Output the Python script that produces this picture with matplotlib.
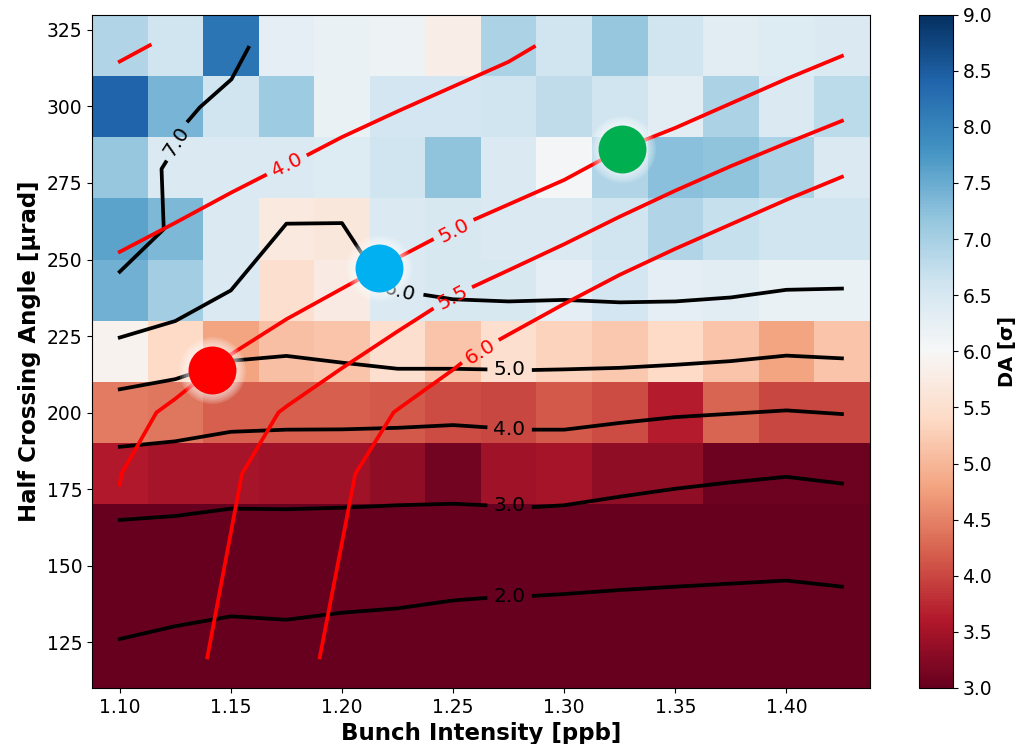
import numpy as np
import matplotlib
matplotlib.use('Agg')
import matplotlib.pyplot as plt

nan = np.nan

# grid of the heatmap (cell centres)
intensity = [1.100, 1.125, 1.150, 1.175, 1.200, 1.225, 1.250,
             1.275, 1.300, 1.325, 1.350, 1.375, 1.400, 1.425]
angle = [120, 140, 160, 180, 200, 220, 240, 260, 280, 300, 320]

# DA values, one row per angle (bottom -> top)
da = [
    [1.7, 1.7, 1.7, 1.7, 1.7, 1.7, 1.7, 1.7, 1.7, 1.7, 1.7, 1.7, 1.7, 1.7],
    [2.3, 2.3, 2.3, 2.3, 2.3, 2.3, 2.3, 2.3, 2.3, 2.3, 2.3, 2.3, 2.3, 2.3],
    [2.7, 2.7, 2.7, 2.7, 2.7, 2.7, 2.7, 2.7, 2.7, 2.7, 2.7, 2.7, 2.7, 2.7],
    [3.6, 3.5, 3.5, 3.45, 3.45, 3.35, 3.1, 3.45, 3.5, 3.35, 3.35, 3.05, 3.05, 3.05],
    [4.45, 4.4, 4.2, 4.2, 4.2, 4.15, 4.05, 4.0, 4.15, 4.05, 3.65, 4.25, 4.0, 4.0],
    [5.9, 5.4, 4.8, 5.1, 5.15, 5.5, 5.15, 5.5, 5.3, 5.2, 5.4, 5.15, 4.8, 5.15],
    [7.45, 7.05, 6.45, 5.5, 5.75, 6.45, 6.5, 6.5, 6.3, 6.55, 6.3, 6.35, 6.2, 6.2],
    [7.6, 7.35, 6.45, 5.7, 5.65, 6.45, 6.5, 6.45, 6.45, 6.6, 6.9, 6.7, 6.6, 6.6],
    [7.15, 6.45, 6.45, 6.45, 6.4, 6.6, 7.2, 6.45, 6.05, 6.9, 7.25, 7.2, 6.95, 6.45],
    [8.4, 7.4, 6.6, 7.1, 6.2, 6.55, 6.55, 6.6, 6.75, 6.6, 6.35, 6.95, 6.45, 6.8],
    [6.9, 6.6, 8.2, 6.3, 6.2, 6.15, 5.8, 6.95, 6.6, 7.15, 6.6, 6.35, 6.4, 6.45],
]

# DA iso-lines (black), gaps (nan) where the label sits
da2_x = [1.10, 1.125, 1.15, 1.175, 1.20, 1.225, 1.25, 1.2646, nan, 1.2863, 1.30, 1.325, 1.35, 1.375, 1.40, 1.425]
da2_y = [126.0, 130.2, 133.4, 132.3, 134.6, 136.0, 138.6, 139.4, nan, 140.1, 140.7, 142.0, 143.1, 144.1, 145.1, 143.1]
da3_x = [1.10, 1.125, 1.15, 1.175, 1.20, 1.225, 1.25, 1.2646, nan, 1.2863, 1.30, 1.325, 1.35, 1.375, 1.40, 1.425]
da3_y = [164.9, 166.2, 168.6, 168.4, 168.9, 169.7, 170.2, 169.7, nan, 169.1, 169.7, 172.5, 175.1, 177.2, 179.0, 176.8]
da4_x = [1.10, 1.125, 1.15, 1.175, 1.20, 1.225, 1.25, 1.2646, nan, 1.2863, 1.30, 1.325, 1.35, 1.375, 1.40, 1.425]
da4_y = [188.8, 190.6, 193.7, 194.4, 194.5, 195.0, 195.9, 195.2, nan, 194.4, 194.4, 196.6, 198.5, 199.6, 200.7, 199.5]
da5_x = [1.10, 1.125, 1.15, 1.175, 1.20, 1.225, 1.25, 1.2646, nan, 1.2863, 1.30, 1.325, 1.35, 1.375, 1.40, 1.425]
da5_y = [207.6, 210.9, 216.9, 218.5, 216.3, 214.3, 214.3, 214.1, nan, 213.9, 214.1, 214.6, 215.6, 216.8, 218.6, 217.7]
da6_x = [1.10, 1.125, 1.15, 1.175, 1.20, 1.2125, nan, 1.2375, 1.25, 1.275, 1.30, 1.325, 1.35, 1.375, 1.40, 1.425]
da6_y = [224.5, 229.9, 239.9, 261.7, 261.9, 248.0, nan, 238.4, 237.0, 236.3, 236.8, 236.0, 236.3, 237.6, 240.1, 240.5]
da7_x = [1.10, 1.1198, 1.1188, 1.1207, nan, 1.1308, 1.136, 1.1503, 1.1579]
da7_y = [246.0, 259.9, 279.6, 281.8, nan, 295.3, 299.7, 308.9, 319.2]

# second quantity (red iso-lines)
r3_x = [1.10, 1.1135]
r3_y = [314.7, 320.0]
r4_x = [1.10, 1.125, 1.15, 1.1654, nan, 1.1849, 1.20, 1.225, 1.25, 1.275, 1.2864]
r4_y = [252.5, 262.0, 271.8, 277.5, nan, 284.3, 290.0, 298.4, 306.5, 314.6, 319.5]
r5_x = [1.10, 1.1008, 1.1165, 1.125, 1.15, 1.175, 1.20, 1.225, 1.2405, nan, 1.26, 1.275, 1.30, 1.325, 1.35, 1.375, 1.40, 1.425]
r5_y = [176.5, 180.0, 200.0, 204.5, 219.0, 230.5, 240.5, 250.5, 256.4, nan, 263.2, 268.0, 276.0, 285.8, 293.0, 301.0, 309.0, 316.5]
r55_x = [1.1394, 1.155, 1.1714, 1.175, 1.20, 1.225, 1.2405, nan, 1.2593, 1.275, 1.30, 1.325, 1.35, 1.375, 1.40, 1.425]
r55_y = [120.0, 180.0, 200.0, 202.0, 214.5, 226.5, 233.7, nan, 241.2, 246.5, 255.0, 264.0, 272.5, 280.5, 288.0, 295.3]
r6_x = [1.19, 1.206, 1.2232, 1.225, 1.25, 1.2533, nan, 1.2713, 1.275, 1.30, 1.325, 1.35, 1.375, 1.40, 1.425]
r6_y = [120.0, 180.0, 200.0, 201.0, 214.0, 215.9, nan, 224.0, 225.5, 235.5, 245.0, 253.5, 261.5, 269.5, 277.0]

# inline labels: text, x, y, rotation
black_labels = [('2.0', 1.2754, 140.0, 0), ('3.0', 1.2754, 169.5, 0),
                ('4.0', 1.2754, 194.6, 0), ('5.0', 1.2754, 214.0, 0),
                ('6.0', 1.2258, 239.4, -15), ('7.0', 1.1257, 288.5, 57)]
red_labels = [('4.0', 1.1752, 280.9, 26), ('5.0', 1.2503, 259.4, 27.5),
              ('5.5', 1.2500, 237.6, 28.5), ('6.0', 1.2623, 219.9, 31.5)]

# working points
pt_x = [1.1415, 1.2168, 1.3259]
pt_y = [214.0, 247.2, 286.2]
pt_c = ['#ff0000', '#00b0f0', '#00b050']

fig = plt.figure(figsize=(10.22, 7.44), dpi=100)
ax = fig.add_axes([0.090, 0.0753, 0.761, 0.905])
cax = fig.add_axes([0.899, 0.0753, 0.0333, 0.905])

mesh = ax.pcolormesh(intensity, angle, da, cmap='RdBu', vmin=3, vmax=9, shading='nearest')

for lx, ly in [(da2_x, da2_y), (da3_x, da3_y), (da4_x, da4_y),
               (da5_x, da5_y), (da6_x, da6_y), (da7_x, da7_y)]:
    ax.plot(lx, ly, color='black', lw=2.7, zorder=2)
for lx, ly in [(r3_x, r3_y), (r4_x, r4_y), (r5_x, r5_y), (r55_x, r55_y), (r6_x, r6_y)]:
    ax.plot(lx, ly, color='red', lw=2.7, zorder=2)

for t, x, y, r in black_labels:
    ax.text(x, y, t, color='black', fontsize=14.5, rotation=r, ha='center', va='center',
            rotation_mode='anchor', zorder=3)
for t, x, y, r in red_labels:
    ax.text(x, y, t, color='red', fontsize=14.5, rotation=r, ha='center', va='center',
            rotation_mode='anchor', zorder=3)

# soft white glow then the points
for ms in [48, 45, 42, 39, 36]:
    ax.plot(pt_x, pt_y, 'o', ms=ms, color='white', mec='none', alpha=0.16, zorder=4, ls='none')
for x, y, c in zip(pt_x, pt_y, pt_c):
    ax.plot(x, y, 'o', ms=34.5, color=c, mec='none', zorder=5)

ax.set_xlim(1.0875, 1.4375)
ax.set_ylim(110, 330)
ax.set_xticks([1.10, 1.15, 1.20, 1.25, 1.30, 1.35, 1.40])
ax.set_yticks([125, 150, 175, 200, 225, 250, 275, 300, 325])
ax.tick_params(labelsize=13.5)
ax.set_xlabel('Bunch Intensity [ppb]', fontsize=16.5, fontweight='bold')
ax.set_ylabel('Half Crossing Angle [μrad]', fontsize=16.5, fontweight='bold')

cb = fig.colorbar(mesh, cax=cax)
cb.set_ticks(np.arange(3, 9.01, 0.5))
cb.ax.tick_params(labelsize=13.5)
cb.set_label('DA [σ]', fontsize=14, fontweight='bold')

fig.savefig('out.png', dpi=100)
